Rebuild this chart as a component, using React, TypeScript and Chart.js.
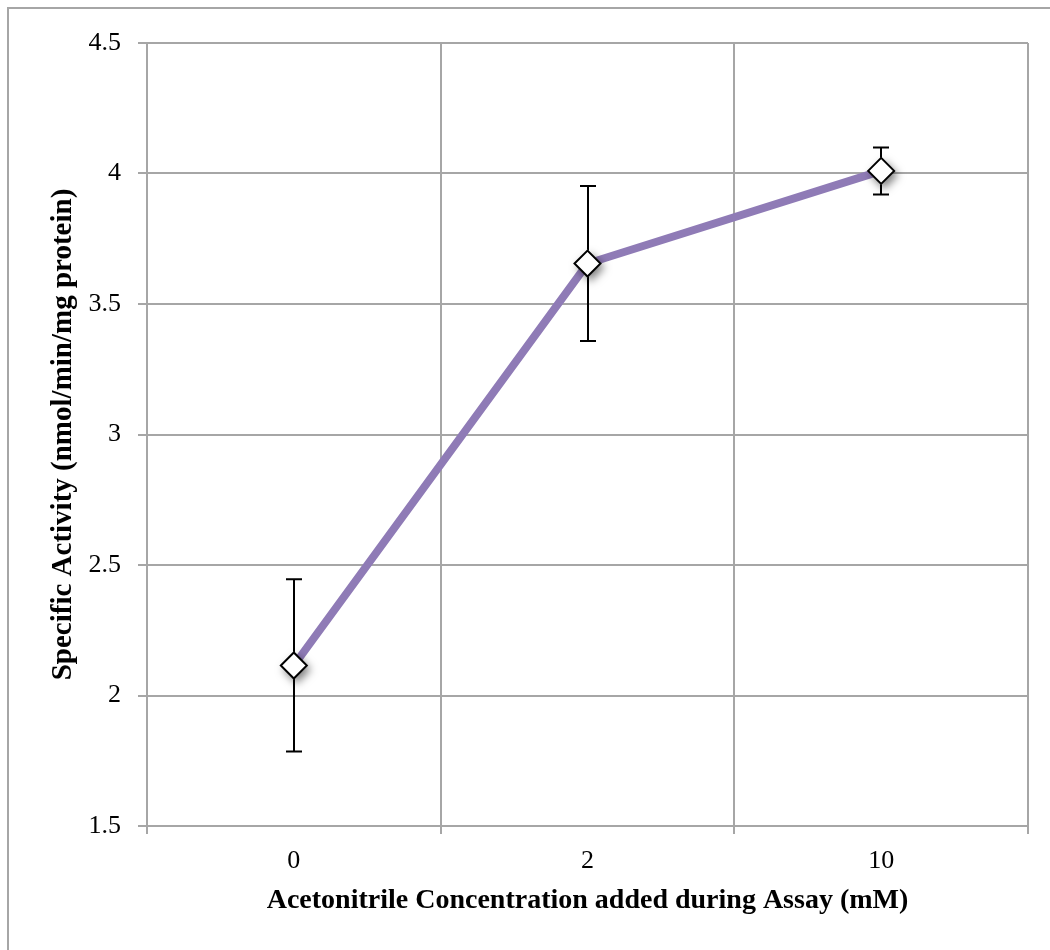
import React, { useEffect, useRef } from "react";
import { Chart, registerables } from "chart.js";

Chart.register(...registerables);

const categories = ["0", "2", "10"];
const activity = [2.115, 3.655, 4.01];
const errors = [0.33, 0.297, 0.09];
const yTicks = [1.5, 2, 2.5, 3, 3.5, 4, 4.5];

const xTitle = "Acetonitrile Concentration added during Assay (mM)";
const yTitle = "Specific Activity (nmol/min/mg protein)";

const GRID = "#a6a6a6";
const LINE = "#8f7bb6";

export default function App() {
  const ref = useRef<HTMLCanvasElement | null>(null);

  useEffect(() => {
    if (!ref.current) return;

    const errorAndShadow = {
      id: "errorAndShadow",
      beforeDraw(chart: any) {
        const ctx = chart.ctx;
        ctx.save();
        ctx.strokeStyle = GRID;
        ctx.lineWidth = 2;
        ctx.strokeRect(8, 8, 1200, 1200);
        ctx.restore();
      },
      beforeDatasetDraw(chart: any, args: any) {
        if (args.index !== 1) return;
        const ctx = chart.ctx;
        const xs = chart.scales.x;
        const ys = chart.scales.y;
        ctx.save();
        ctx.strokeStyle = "#000";
        ctx.lineWidth = 2;
        activity.forEach((v, i) => {
          const x = Math.round(xs.getPixelForValue(i));
          const yt = ys.getPixelForValue(v + errors[i]);
          const yb = ys.getPixelForValue(v - errors[i]);
          ctx.beginPath();
          ctx.moveTo(x, yt);
          ctx.lineTo(x, yb);
          ctx.moveTo(x - 8, yt);
          ctx.lineTo(x + 8, yt);
          ctx.moveTo(x - 8, yb);
          ctx.lineTo(x + 8, yb);
          ctx.stroke();
        });
        ctx.restore();
        ctx.save();
        ctx.shadowColor = "rgba(0,0,0,0.5)";
        ctx.shadowBlur = 9;
        ctx.shadowOffsetX = 3;
        ctx.shadowOffsetY = 4;
      },
      afterDatasetDraw(chart: any, args: any) {
        if (args.index !== 1) return;
        chart.ctx.restore();
      },
    };

    const chart = new Chart(ref.current, {
      type: "line",
      data: {
        labels: categories,
        datasets: [
          {
            data: activity,
            borderColor: LINE,
            borderWidth: 8,
            pointRadius: 0,
            fill: false,
            tension: 0,
            order: 3,
          },
          {
            data: activity,
            showLine: false,
            pointStyle: "rectRot",
            pointRadius: 14,
            pointBackgroundColor: "#ffffff",
            pointBorderWidth: 0,
            order: 2,
          },
          {
            data: activity,
            showLine: false,
            pointStyle: "rectRot",
            pointRadius: 13,
            pointBackgroundColor: "#ffffff",
            pointBorderColor: "#000000",
            pointBorderWidth: 2,
            order: 1,
          },
        ],
      },
      options: {
        animation: false,
        responsive: false,
        events: [],
        layout: { padding: { top: 43, right: 22, left: 0, bottom: 0 } },
        plugins: {
          legend: { display: false },
          tooltip: { enabled: false },
        },
        scales: {
          x: {
            type: "category",
            offset: true,
            afterFit(scale: any) {
              scale.height = 124;
            },
            grid: {
              offset: true,
              color: GRID,
              lineWidth: 2,
              tickLength: 8,
              drawTicks: true,
            },
            border: { color: GRID, width: 2 },
            ticks: {
              color: "#000",
              font: { family: "Liberation Serif", size: 26 },
              padding: 12,
              maxRotation: 0,
            },
            title: {
              display: true,
              text: xTitle,
              color: "#000",
              font: { family: "Liberation Serif", size: 28, weight: "bold" },
              padding: { top: 0, bottom: 32 },
            },
          },
          y: {
            min: 1.5,
            max: 4.5,
            afterFit(scale: any) {
              scale.width = 147;
            },
            afterBuildTicks(scale: any) {
              scale.ticks = yTicks.map((v) => ({ value: v }));
            },
            grid: {
              color: GRID,
              lineWidth: 2,
              tickLength: 9,
              drawTicks: true,
            },
            border: { color: GRID, width: 2 },
            ticks: {
              color: "#000",
              font: { family: "Liberation Serif", size: 26 },
              padding: 17,
              callback: (v: any) => String(v),
            },
            title: {
              display: true,
              text: yTitle,
              color: "#000",
              font: { family: "Liberation Serif", size: 29, weight: "bold" },
              padding: { top: 46, bottom: 0 },
            },
          },
        },
      },
      plugins: [errorAndShadow],
    });

    return () => chart.destroy();
  }, []);

  return (
    <div style={{ position: "absolute", left: 0, top: 0, width: 1050, height: 950 }}>
      <canvas ref={ref} width={1050} height={950} style={{ display: "block" }} />
    </div>
  );
}
